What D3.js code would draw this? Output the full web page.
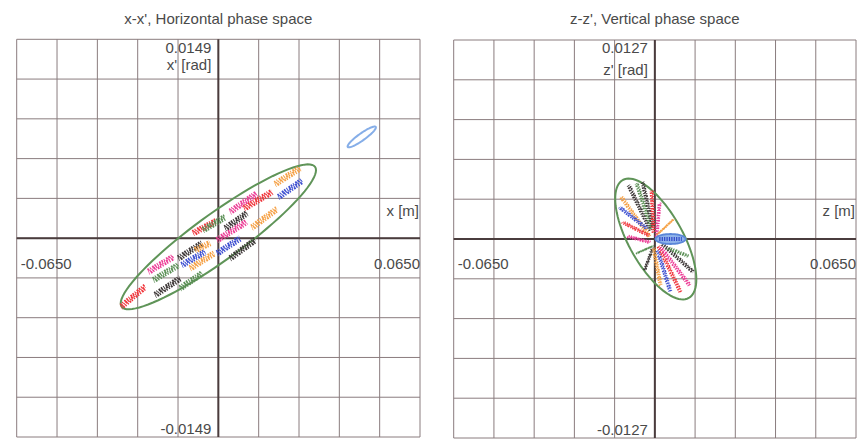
<!DOCTYPE html>
<html><head><meta charset="utf-8">
<script src="https://cdn.jsdelivr.net/npm/d3@7"></script>
<style>
html,body{margin:0;padding:0;background:#fff;}
text{font-family:"Liberation Sans",Arial,sans-serif;fill:#4a4a4a;}
</style></head>
<body><svg id="c" width="864" height="444"></svg>
<script>
// ---------- data ----------
const titles = ["x-x', Horizontal phase space", "z-z', Vertical phase space"];
const posLabels = ["x [m]", "z [m]"];
const angLabels = ["x' [rad]", "z' [rad]"];
const posRange = [-0.0650, 0.0650];
const hAngRange = [-0.0149, 0.0149];
const vAngRange = [-0.0127, 0.0127];
const posTickLabels = ["-0.0650", "0.0650"];
const hAngTickLabels = ["0.0149", "-0.0149"];
const vAngTickLabels = ["0.0127", "-0.0127"];
const gridDivisions = 10;

// acceptance ellipses: centre, two conjugate half-axes (data units)
const hEllipse = {c:[0, 0.0001], a:[0.03117, 0.005241], b:[0.0044, -0.001415]};
const hBeamEllipse = {c:[0.04622, 0.007584], a:[0.004512, 0.000749], b:[0.000654, -0.000213]};
const vEllipse = {c:[0.0003, 0], a:[-0.01066, 0.003765], b:[0.007625, 0.000842]};
const vBeamEllipse = {c:[0.00507, 0], a:[0.00485, 0], b:[0, 0.000319]};

// particle groups: [group, x1, x'1, x2, x'2]
const hClusters = [
  ["red",   -0.03136,-0.005144, -0.02362,-0.003646],
  ["pink",  -0.02256,-0.002523, -0.01450,-0.001400],
  ["green", -0.02095,-0.003145, -0.01289,-0.002021],
  ["dark",  -0.02040,-0.004268, -0.01234,-0.003017],
  ["green", -0.01234,-0.003766, -0.005253,-0.002643],
  ["dark",  -0.01289,-0.001520, -0.00535,-0.000397],
  ["blue",  -0.01180,-0.002021, -0.004287,-0.001026],
  ["orange",-0.00912,-0.002269, -0.001386,-0.001146],
  ["orange",-0.00751,-0.000898, -0.002675,-0.000374],
  ["red",   -0.008154,0.000374, -0.000741,0.001273],
  ["green", -0.004931,0.000599,  0.002159,0.001572],
  ["pink",  -0.000419,-0.000150, 0.009153,0.001220],
  ["dark",   0.002159,0.000726,  0.00925,0.001872],
  ["blue",  -0.000419,-0.001146, 0.006994,-0.0000225],
  ["dark",   0.003771,-0.001520, 0.01183,-0.000150],
  ["pink",   0.003771,0.001969,  0.01238,0.003347],
  ["red",    0.008283,0.002224,  0.01731,0.003466],
  ["orange", 0.01076,0.000786,   0.01882,0.002171],
  ["orange", 0.01827,0.004043,   0.02633,0.005241],
  ["blue",   0.01934,0.003070,   0.02698,0.004305]
];
const vClusters = [
  ["dark",  -0.001389,0.000555, -0.008498,0.003427],
  ["green", -0.001066,0.000683, -0.005913,0.003555],
  ["dark",  -0.000743,0.000811, -0.003974,0.003619],
  ["orange",-0.001712,0.000172, -0.01108,0.002725],
  ["blue",  -0.002682,0.000683, -0.01141,0.002023],
  ["red",   -0.002036,0.000236, -0.01044,0.001066],
  ["pink",  -0.001712,-0.000211, -0.008821,0.000172],
  ["red",   -0.000420,0.000428, -0.001066,0.003108],
  ["pink",   0.000549,0.000172,  0.001519,0.002278],
  ["orange", 0.000872,0.000300,  0.006042,0.001257],
  ["green", -0.000743,-0.000466, -0.005913,-0.000913],
  ["dark",  -0.000743,-0.000594, -0.003328,-0.001998],
  ["orange",-0.000420,-0.000594,  0.001842,-0.002955],
  ["blue",   0.000872,-0.000721,  0.005073,-0.003402],
  ["red",    0.001195,-0.000466,  0.008304,-0.003402],
  ["pink",   0.001842,-0.000530,  0.01121,-0.002955],
  ["dark",   0.002488,-0.000338,  0.01250,-0.002125],
  ["green",  0.004426,-0.000594,  0.01089,-0.001104]
];

// ---------- drawing ----------
const groupColor = d3.scaleOrdinal()
  .domain(["red","pink","green","dark","blue","orange"])
  .range(["#f0353b","#ec3d96","#5a8f55","#3b3535","#3d4fd0","#f5a044"]);

const svg = d3.select("#c");
const panels = [
  {box:[16.7,420,39.3,437], ang:hAngRange, angTicks:hAngTickLabels, ell:hEllipse, beam:hBeamEllipse, clusters:hClusters, i:0, beamFill:false, angLabY:65},
  {box:[453.7,856,40,438], ang:vAngRange, angTicks:vAngTickLabels, ell:vEllipse, beam:vBeamEllipse, clusters:vClusters, i:1, beamFill:true, angLabY:70}
];

function ellipsePts(e){
  return d3.range(0, 361, 4).map(t => {
    const r = t*Math.PI/180;
    return [e.c[0] + e.a[0]*Math.cos(r) + e.b[0]*Math.sin(r),
            e.c[1] + e.a[1]*Math.cos(r) + e.b[1]*Math.sin(r)];
  });
}

// speckle strands (style only)
const strandsH = [
  {dx:-0.8, dy:-1.9, dash:"1.6 1.2 1.0 1.6 1.8 0.9", off:0},
  {dx:0,    dy:0,    dash:"2.0 0.8 1.3 1.2 1.0 1.0", off:1.3},
  {dx:0.8,  dy:1.9,  dash:"1.2 1.4 1.8 0.9 1.3 1.5", off:0.6}
];
const strandsV = [
  {dx:-1.0, dy:0.6,  dash:"1.5 1.1 1.0 1.5 1.7 1.0", off:0},
  {dx:0.2,  dy:-0.1, dash:"1.2 1.6 1.4 1.0 0.9 1.8", off:0.7},
  {dx:1.1,  dy:-0.7, dash:"1.8 1.0 1.1 1.4 1.0 1.3", off:1.1}
];

panels.forEach(p => {
  const [L,R,T,B] = p.box;
  const x = d3.scaleLinear().domain(posRange).range([L,R]);
  const y = d3.scaleLinear().domain(p.ang).range([B,T]);
  const g = svg.append("g");
  const xt = d3.range(gridDivisions+1).map(i => posRange[0] + i*(posRange[1]-posRange[0])/gridDivisions);
  const yt = d3.range(gridDivisions+1).map(i => p.ang[0] + i*(p.ang[1]-p.ang[0])/gridDivisions);
  g.selectAll(".gv").data(xt).join("line")
    .attr("x1", d=>x(d)).attr("x2", d=>x(d)).attr("y1", T).attr("y2", B)
    .attr("stroke", "#8a7c7e").attr("stroke-width", 1);
  g.selectAll(".gh").data(yt).join("line")
    .attr("x1", L).attr("x2", R).attr("y1", d=>y(d)).attr("y2", d=>y(d))
    .attr("stroke", "#8a7c7e").attr("stroke-width", 1);
  // axes
  g.append("line").attr("x1", x(0)).attr("x2", x(0)).attr("y1", T).attr("y2", B)
    .attr("stroke", "#4a3c3d").attr("stroke-width", 2);
  g.append("line").attr("x1", L).attr("x2", R).attr("y1", y(0)).attr("y2", y(0))
    .attr("stroke", "#4a3c3d").attr("stroke-width", 2);

  const line = d3.line().x(d=>x(d[0])).y(d=>y(d[1]));
  // acceptance ellipse
  g.append("path").attr("d", line(ellipsePts(p.ell)) + "Z")
    .attr("fill","none").attr("stroke","#5f9458").attr("stroke-width",2);

  // particles
  const strands = p.i===0 ? strandsH : strandsV;
  p.clusters.forEach(c => {
    const pts = [[c[1],c[2]],[c[3],c[4]]];
    strands.forEach(s => {
      g.append("path").attr("d", line(pts))
        .attr("transform", `translate(${s.dx},${s.dy})`)
        .attr("stroke", groupColor(c[0])).attr("stroke-width", p.i===0 ? 2.3 : 1.8)
        .attr("stroke-dasharray", s.dash).attr("stroke-dashoffset", s.off)
        .attr("fill","none");
    });
  });

  // beam ellipse
  if (p.beamFill) {
    g.append("path").attr("d", line(ellipsePts(p.beam)) + "Z")
      .attr("fill","#8fb3ea").attr("stroke","#5a86d8").attr("stroke-width",1.8);
    g.append("path").attr("d", line([[p.beam.c[0]-p.beam.a[0]*0.75, p.beam.c[1]],[p.beam.c[0]+p.beam.a[0]*0.75, p.beam.c[1]]]))
      .attr("stroke","#2f45c8").attr("stroke-width",4).attr("stroke-dasharray","1.2 1.2").attr("fill","none");
  } else {
    g.append("path").attr("d", line(ellipsePts(p.beam)) + "Z")
      .attr("fill","none").attr("stroke","#86aee8").attr("stroke-width",2);
  }

  // texts
  g.append("text").attr("x", x(0)).attr("y", 24).attr("text-anchor","middle")
    .attr("font-size", 15).text(titles[p.i]);
  g.append("text").attr("x", x(0)-7).attr("y", 53).attr("text-anchor","end")
    .attr("font-size", 15).text(p.angTicks[0]);
  g.append("text").attr("x", x(0)-7).attr("y", p.angLabY+5).attr("text-anchor","end")
    .attr("font-size", 15).text(angLabels[p.i]);
  g.append("text").attr("x", x(0)-7).attr("y", B-3).attr("text-anchor","end")
    .attr("font-size", 15).text(p.angTicks[1]);
  g.append("text").attr("x", R-1).attr("y", 216).attr("text-anchor","end")
    .attr("font-size", 15).text(posLabels[p.i]);
  g.append("text").attr("x", L+4).attr("y", 269).attr("text-anchor","start")
    .attr("font-size", 15).text(posTickLabels[0]);
  g.append("text").attr("x", R).attr("y", 269).attr("text-anchor","end")
    .attr("font-size", 15).text(posTickLabels[1]);
});
</script></body></html>
